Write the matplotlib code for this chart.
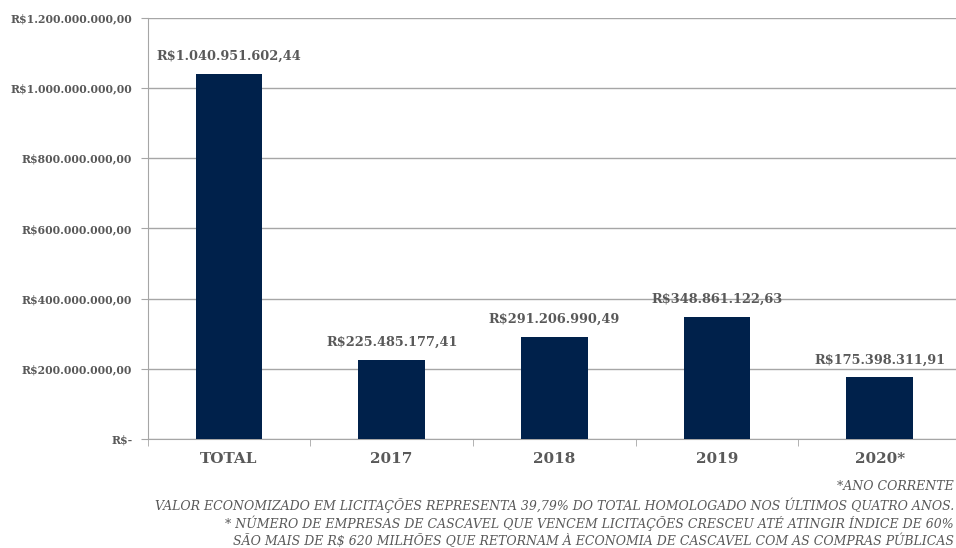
import numpy as np
import matplotlib.pyplot as plt
from matplotlib.ticker import FuncFormatter

# Valores economizados em licitações (R$)
categories = ["TOTAL", "2017", "2018", "2019", "2020*"]
values = [1040951602.44, 225485177.41, 291206990.49, 348861122.63, 175398311.91]
y_ticks = [0, 200e6, 400e6, 600e6, 800e6, 1000e6, 1200e6]

notes = [
    "*ANO CORRENTE",
    "VALOR ECONOMIZADO EM LICITAÇÕES REPRESENTA 39,79% DO TOTAL HOMOLOGADO NOS ÚLTIMOS QUATRO ANOS.",
    "* NÚMERO DE EMPRESAS DE CASCAVEL QUE VENCEM LICITAÇÕES CRESCEU ATÉ ATINGIR ÍNDICE DE 60%",
    "SÃO MAIS DE R$ 620 MILHÕES QUE RETORNAM À ECONOMIA DE CASCAVEL COM AS COMPRAS PÚBLICAS",
]

BAR_COLOR = "#00214b"
TEXT_COLOR = "#595959"
GRID_COLOR = "#a6a6a6"
FONT = "DejaVu Serif"


def brl(v):
    """Format a number as Brazilian currency."""
    if v == 0:
        return "R$-"
    s = f"{v:,.2f}"
    s = s.replace(",", "X").replace(".", ",").replace("X", ".")
    return "R$" + s


fig = plt.figure(figsize=(9.56, 5.48), dpi=100)
ax = fig.add_axes([0.1544, 0.1989, 0.851, 0.7683])

x = np.arange(len(categories))
ax.bar(x, values, width=0.41, color=BAR_COLOR, zorder=3)

for xi, v in zip(x, values):
    ax.annotate(brl(v), (xi, v), xytext=(0, 8), textcoords="offset points",
                ha="center", va="bottom", fontsize=9.3, fontweight="bold",
                color=TEXT_COLOR, family=FONT)

ax.set_xlim(-0.5, len(categories) - 0.5)
ax.set_ylim(0, 1200e6)
ax.set_yticks(y_ticks)
ax.yaxis.set_major_formatter(FuncFormatter(lambda v, p: brl(v)))
ax.grid(axis="y", color=GRID_COLOR, linewidth=1, zorder=0)

# category labels centred, tick marks on the boundaries
ax.set_xticks(x)
ax.set_xticklabels(categories)
ax.set_xticks(np.arange(len(categories) + 1) - 0.5, minor=True)
ax.tick_params(axis="x", which="major", length=0, pad=9)
ax.tick_params(axis="x", which="minor", length=5, color=GRID_COLOR)
ax.tick_params(axis="y", length=5, color=GRID_COLOR, pad=6)

for lbl in ax.get_xticklabels():
    lbl.set_fontfamily(FONT)
    lbl.set_fontweight("bold")
    lbl.set_fontsize(11)
    lbl.set_color(TEXT_COLOR)
for lbl in ax.get_yticklabels():
    lbl.set_fontfamily(FONT)
    lbl.set_fontweight("bold")
    lbl.set_fontsize(7.8)
    lbl.set_color(TEXT_COLOR)

for side in ["top", "right"]:
    ax.spines[side].set_visible(False)
for side in ["left", "bottom"]:
    ax.spines[side].set_color(GRID_COLOR)

# notes under the chart
for i, line in enumerate(notes):
    fig.text(0.998, 1 - (487 + 18 * i) / 548, line, ha="right", va="center",
             fontsize=9.0, style="italic", color=TEXT_COLOR, family=FONT)

fig.savefig("out.png", dpi=100)
